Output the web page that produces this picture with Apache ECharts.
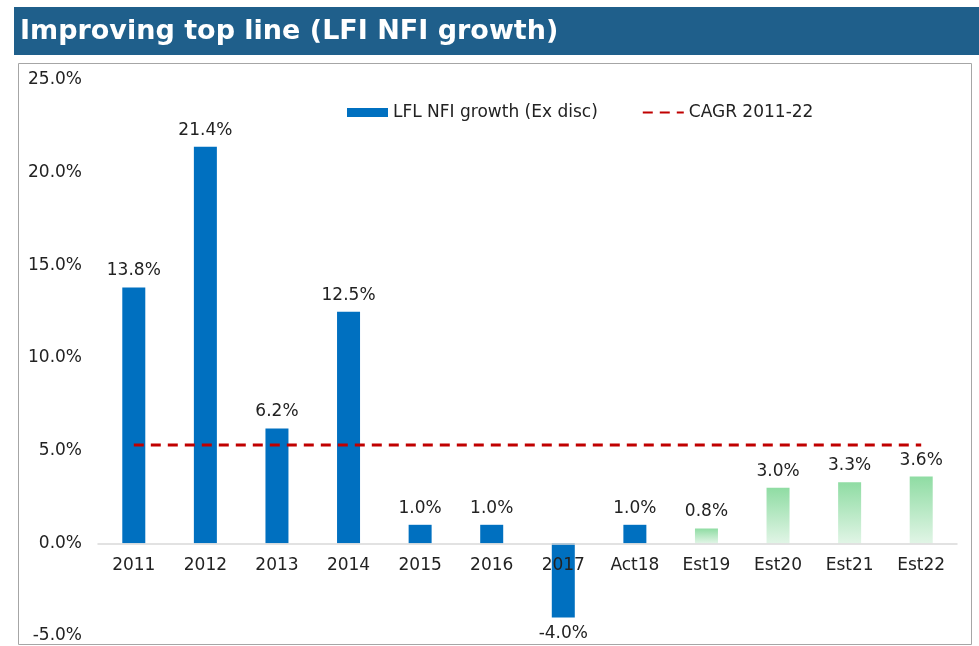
<!DOCTYPE html>
<html>
<head>
<meta charset="utf-8">
<script src="https://cdn.jsdelivr.net/npm/echarts@6/dist/echarts.min.js"></script>
<style>
  html, body { margin: 0; padding: 0; background: #fff; }
  #chart { width: 979px; height: 646px; }
</style>
</head>
<body>
<div id="chart"></div>
<script>
// data
const categories = ["2011", "2012", "2013", "2014", "2015", "2016", "2017", "Act18", "Est19", "Est20", "Est21", "Est22"];
const growth = [13.8, 21.4, 6.2, 12.5, 1.0, 1.0, -4.0, 1.0, 0.8, 3.0, 3.3, 3.6];
const estimates = ["Est19", "Est20", "Est21", "Est22"];
const cagr = 5.3;
const yTicks = [-5, 0, 5, 10, 15, 20, 25];

const pct = (v) => v.toFixed(1) + "%";
const font = "DejaVu Sans";

const greenFill = new echarts.graphic.LinearGradient(0, 0, 0, 1, [
  { offset: 0, color: "#8fdca3" },
  { offset: 1, color: "#e1f5e6" },
]);

const barData = growth.map((v, i) => {
  let item = { value: v };
  if (estimates.indexOf(categories[i]) >= 0) {
    item.itemStyle = { color: greenFill };
  }
  if (v < 0) {
    item.label = { position: "bottom" };
  }
  return item;
});

// grid: top 80, bottom 10 -> zero line sits 1/6 of the plot height above the bottom
const gridTop = 80, gridBottom = 10;
const plotH = 646 - gridTop - gridBottom;
const zeroOffset = plotH * (0 - yTicks[0]) / (yTicks[yTicks.length - 1] - yTicks[0]);

const chart = echarts.init(document.getElementById("chart"));
chart.setOption({
  animation: false,
  graphic: [
    {
      type: "rect",
      shape: { x: 14, y: 7, width: 965, height: 48 },
      style: { fill: "#1f5f8b" },
      z: 0,
    },
    {
      type: "text",
      x: 20,
      y: 32,
      style: {
        text: "Improving top line (LFI NFI growth)",
        fill: "#fff",
        font: "bold 27px 'DejaVu Sans'",
        verticalAlign: "middle",
      },
      z: 1,
    },
    {
      type: "rect",
      shape: { x: 18.5, y: 63.5, width: 953, height: 581 },
      style: { fill: "none", stroke: "#a6a6a6", lineWidth: 1 },
      z: 0,
    },
  ],
  legend: {
    left: 342,
    top: 99,
    itemWidth: 41,
    itemHeight: 9,
    itemGap: 44,
    textStyle: { fontFamily: font, fontSize: 17, color: "#222" },
    data: [
      { name: "LFL NFI growth (Ex disc)", icon: "rect", itemStyle: { color: "#0070c0" } },
      { name: "CAGR 2011-22", itemStyle: { opacity: 0 } },
    ],
  },
  grid: { left: 98, right: 22, top: gridTop, bottom: gridBottom, outerBoundsMode: "none" },
  xAxis: {
    type: "category",
    data: categories,
    z: 10,
    offset: -zeroOffset,
    axisLine: { onZero: false, lineStyle: { color: "#d9d9d9", width: 1.5 } },
    axisTick: { show: false },
    axisLabel: { fontFamily: font, fontSize: 17, color: "#222", margin: 14 },
  },
  yAxis: {
    type: "value",
    min: yTicks[0],
    max: yTicks[yTicks.length - 1],
    interval: 5,
    axisLine: { show: false },
    axisTick: { show: false },
    splitLine: { show: false },
    axisLabel: { fontFamily: font, fontSize: 17, color: "#222", margin: 16, formatter: (v) => pct(v) },
  },
  series: [
    {
      name: "LFL NFI growth (Ex disc)",
      type: "bar",
      barWidth: 23,
      itemStyle: { color: "#0070c0" },
      label: {
        show: true,
        position: "top",
        distance: 8,
        fontFamily: font,
        fontSize: 17,
        color: "#222",
        formatter: (p) => pct(p.value),
      },
      data: barData,
    },
    {
      name: "CAGR 2011-22",
      type: "line",
      symbol: "none",
      silent: true,
      z: 5,
      lineStyle: { color: "#c00000", width: 3, type: [10, 7] },
      itemStyle: { color: "#c00000" },
      data: categories.map(() => cagr),
    },
  ],
});
</script>
</body>
</html>
